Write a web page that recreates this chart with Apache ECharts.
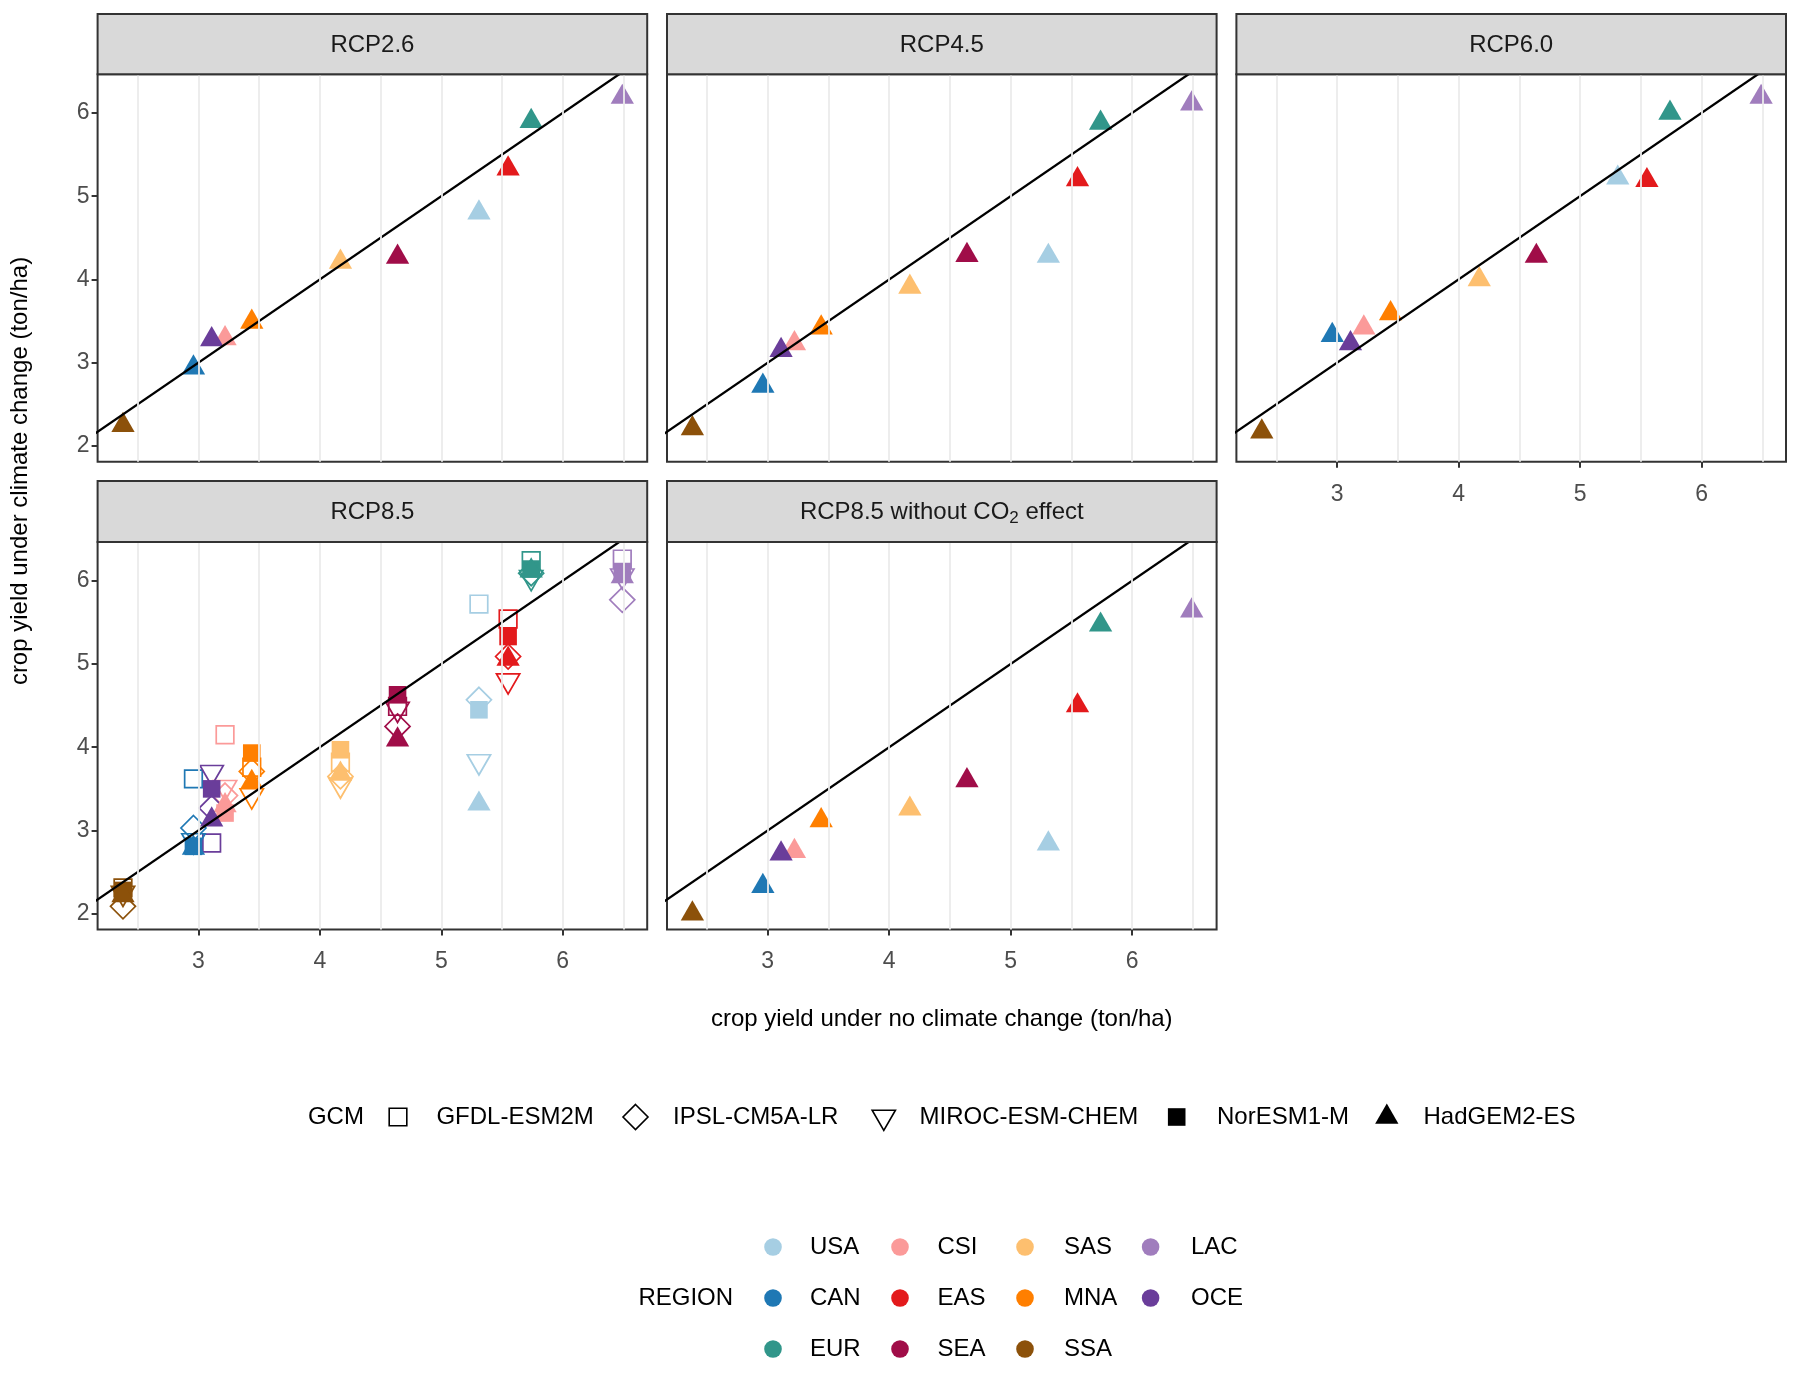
<!DOCTYPE html>
<html><head><meta charset="utf-8">
<script src="https://cdn.jsdelivr.net/npm/echarts@6/dist/echarts.min.js"></script>
<style>html,body{margin:0;padding:0;background:#fff}#chart{width:1800px;height:1377px}</style>
</head><body><div id="chart"></div>
<script>
// ---------------- data ----------------
const regions = ['USA','CAN','EUR','CSI','EAS','SEA','SAS','MNA','SSA','LAC','OCE'];
const gcms = ['GFDL-ESM2M','IPSL-CM5A-LR','MIROC-ESM-CHEM','NorESM1-M','HadGEM2-ES'];
const scenarios = ['RCP2.6','RCP4.5','RCP6.0','RCP8.5','RCP8.5 without CO2 effect'];
// crop yield under no climate change (x), same for every panel
const yieldNoCC = [5.31, 2.96, 5.74, 3.22, 5.55, 4.64, 4.17, 3.44, 2.38, 6.49, 3.11];
// crop yield under climate change (y)
const rcp26Had     = [4.80, 2.94, 5.90, 3.29, 5.33, 4.27, 4.21, 3.49, 2.25, 6.19, 3.28];
const rcp45Had     = [4.28, 2.72, 5.88, 3.23, 5.20, 4.29, 3.91, 3.42, 2.21, 6.11, 3.15];
const rcp60Had     = [5.22, 3.33, 6.00, 3.42, 5.19, 4.28, 4.00, 3.59, 2.17, 6.19, 3.23];
const rcp85NoCO2Had= [2.84, 2.33, 5.47, 2.75, 4.50, 3.60, 3.26, 3.12, 2.00, 5.64, 2.72];
const rcp85GFDL    = [5.72, 3.62, 6.24, 4.15, 5.54, 4.49, 3.82, 3.76, 2.31, 6.26, 2.85];
const rcp85IPSL    = [4.57, 3.03, 6.09, 3.42, 5.09, 4.25, 3.65, 3.71, 2.09, 5.77, 3.27];
const rcp85MIROC   = [3.83, 2.88, 6.04, 3.52, 4.80, 4.46, 3.55, 3.42, 2.25, 6.06, 3.70];
const rcp85Nor     = [4.45, 2.81, 6.14, 3.21, 5.33, 4.63, 3.97, 3.93, 2.28, 6.11, 3.50];
const rcp85Had     = [3.32, 2.79, 6.12, 3.30, 5.06, 4.09, 3.68, 3.58, 2.22, 6.05, 3.13];
const xTickValues = [3, 4, 5, 6];
const yTickValues = [2, 3, 4, 5, 6];
const xGridValues = [2.5, 3, 3.5, 4, 4.5, 5, 5.5, 6, 6.5];
const identityLine = [[1, 1], [8, 8]];

// ---------------- styles ----------------
const regionColors = ['#a6cee3','#1f78b4','#31968a','#fb9a99','#e31a1c','#a00d48','#fdbf6f','#ff7f00','#8c510a','#a07dbd','#6a3d9a'];
const FONT = '"Liberation Sans", Arial, Helvetica, sans-serif';
const X_MIN = 2.171, X_MAX = 6.695, Y_MIN = 1.81, Y_MAX = 6.465;
const panelLefts = [97.6, 667, 1236.4];
const rowTops = [74.2, 542];
const PW = 549.6, PH = 387.6;
const gridPos = [[0,0],[1,0],[2,0],[0,1],[1,1]];
const TRI_W = 23.3, TRI_H = 20.2, SQ = 17.6, DIA = 25;
const downTriPath = 'path://M0,0L2,0L1,1.732Z';
const gcmSymbols = [
  {symbol:'rect', size:SQ, offset:[0,0], open:true},
  {symbol:'diamond', size:DIA, offset:[0,0], open:true},
  {symbol:downTriPath, size:[TRI_W,TRI_H], offset:[0,TRI_H/6], open:true},
  {symbol:'rect', size:SQ, offset:[0,0], open:false},
  {symbol:'triangle', size:[TRI_W,TRI_H], offset:[0,-TRI_H/6], open:false}
];

function points(yArr, open) {
  return regions.map((r, i) => ({
    name: r,
    value: [yieldNoCC[i], yArr[i]],
    itemStyle: open ? {color:'rgba(0,0,0,0)', borderColor: regionColors[i], borderWidth: 1.7, opacity: 1}
                    : {color: regionColors[i], borderWidth: 0, opacity: 1}
  }));
}

const grids = gridPos.map(([c, r]) => ({
  left: panelLefts[c], top: rowTops[r], width: PW, height: PH,
  show: true, backgroundColor: '#fff', borderColor: '#333', borderWidth: 2
}));

const showX = [false, false, true, true, true];
const showY = [true, false, false, true, false];
const xAxes = grids.map((g, i) => ({
  type:'value', gridIndex:i, min:X_MIN, max:X_MAX,
  axisLine:{show:false}, splitLine:{show:false},
  axisTick:{show:showX[i], customValues:xTickValues, length:6, lineStyle:{color:'#333', width:2}},
  axisLabel:{show:showX[i], customValues:xTickValues, margin:21, fontSize:23, color:'#4d4d4d', fontFamily:FONT}
}));
const yAxes = grids.map((g, i) => ({
  type:'value', gridIndex:i, min:Y_MIN, max:Y_MAX,
  axisLine:{show:false}, splitLine:{show:false},
  axisTick:{show:showY[i], customValues:yTickValues, length:6, lineStyle:{color:'#333', width:2}},
  axisLabel:{show:showY[i], customValues:yTickValues, margin:8, fontSize:23, color:'#4d4d4d', fontFamily:FONT}
}));

const series = [];
grids.forEach((g, i) => {
  // vertical grid lines
  series.push({
    type:'scatter', xAxisIndex:i, yAxisIndex:i, data:[], z:1, silent:true,
    markLine:{silent:true, symbol:['none','none'], label:{show:false}, animation:false,
      lineStyle:{color:'#ebebeb', width:1.8, type:'solid'},
      data: xGridValues.map(v => ({xAxis:v}))}
  });
});
function addScatter(gi, yArr, gcmIndex) {
  const s = gcmSymbols[gcmIndex];
  series.push({
    type:'scatter', name:gcms[gcmIndex], xAxisIndex:gi, yAxisIndex:gi, z:3,
    symbol:s.symbol, symbolSize:s.size, symbolOffset:s.offset,
    itemStyle:{opacity:1},
    data: points(yArr, s.open)
  });
}
addScatter(0, rcp26Had, 4);
addScatter(1, rcp45Had, 4);
addScatter(2, rcp60Had, 4);
addScatter(3, rcp85GFDL, 0);
addScatter(3, rcp85IPSL, 1);
addScatter(3, rcp85MIROC, 2);
addScatter(3, rcp85Nor, 3);
addScatter(3, rcp85Had, 4);
addScatter(4, rcp85NoCO2Had, 4);
grids.forEach((g, i) => {
  series.push({
    type:'line', xAxisIndex:i, yAxisIndex:i, data:identityLine, z:4, silent:true,
    symbol:'none', clip:true, lineStyle:{color:'#000', width:2.3}
  });
});

// ---------------- graphics: strips, titles, legends ----------------
const graphic = [];
const stripTops = [14, 481], stripH = [60.2, 61];
gridPos.forEach(([c, r], i) => {
  graphic.push({type:'rect', shape:{x:panelLefts[c], y:stripTops[r], width:PW, height:stripH[r]},
    style:{fill:'#d9d9d9', stroke:'#333', lineWidth:2}, z:10});
  const txt = i === 4 ? 'RCP8.5 without CO{sub|2} effect' : scenarios[i];
  graphic.push({type:'text', x:panelLefts[c] + PW/2, y:stripTops[r] + stripH[r]/2 + 1, z:11,
    style:{text:txt, align:'center', verticalAlign:'middle', textAlign:'center', textVerticalAlign:'middle',
      fill:'#1a1a1a', font:'24px ' + FONT,
      rich:{sub:{fontSize:17, fontFamily:FONT, fill:'#1a1a1a', padding:[12,0,0,0]}}}});
});
graphic.push({type:'text', x:941.8, y:1019, z:11,
  style:{text:'crop yield under no climate change (ton/ha)', align:'center', verticalAlign:'middle',
    textAlign:'center', textVerticalAlign:'middle', fill:'#000', font:'24px ' + FONT}});
graphic.push({type:'text', x:20.7, y:471, rotation:Math.PI/2, z:11,
  style:{text:'crop yield under climate change (ton/ha)', align:'center', verticalAlign:'middle',
    textAlign:'center', textVerticalAlign:'middle', fill:'#000', font:'24px ' + FONT}});

function legendText(x, y, t) {
  graphic.push({type:'text', x:x, y:y, z:11,
    style:{text:t, align:'left', verticalAlign:'middle', textAlign:'left', textVerticalAlign:'middle',
      fill:'#000', font:'24px ' + FONT}});
}
// GCM legend
const gy = 1117;
legendText(307.9, gy, 'GCM');
const gcmKeyX = [398, 635.5, 883.8, 1176.7, 1386.8];
const gcmTextX = [436.4, 673, 919.5, 1217, 1423.5];
gcmKeyX.forEach((cx, k) => {
  const s = gcmSymbols[k];
  const st = s.open ? {fill:'none', stroke:'#000', lineWidth:1.6} : {fill:'#000'};
  if (k === 0 || k === 3) {
    graphic.push({type:'rect', shape:{x:cx-SQ/2, y:gy-SQ/2, width:SQ, height:SQ}, style:st, z:11});
  } else if (k === 1) {
    graphic.push({type:'polygon', shape:{points:[[cx,gy-DIA/2],[cx+DIA/2,gy],[cx,gy+DIA/2],[cx-DIA/2,gy]]}, style:st, z:11});
  } else if (k === 2) {
    graphic.push({type:'polygon', shape:{points:[[cx-TRI_W/2,gy-TRI_H/3],[cx+TRI_W/2,gy-TRI_H/3],[cx,gy+2*TRI_H/3]]}, style:st, z:11});
  } else {
    graphic.push({type:'polygon', shape:{points:[[cx,gy-2*TRI_H/3],[cx+TRI_W/2,gy+TRI_H/3],[cx-TRI_W/2,gy+TRI_H/3]]}, style:st, z:11});
  }
  legendText(gcmTextX[k], gy, gcms[k]);
});
// REGION legend (column-major, 3 rows)
const rowY = [1247, 1298, 1349];
const colKeyX = [773, 900, 1025, 1150.6];
const colTextX = [810, 937.5, 1064, 1191];
legendText(638.4, rowY[1], 'REGION');
regions.forEach((r, i) => {
  const c = Math.floor(i / 3), rr = i % 3;
  graphic.push({type:'circle', shape:{cx:colKeyX[c], cy:rowY[rr], r:8.8}, style:{fill:regionColors[i]}, z:11});
  legendText(colTextX[c], rowY[rr], r);
});

const chart = echarts.init(document.getElementById('chart'), null, {renderer:'canvas', width:1800, height:1377});
chart.setOption({
  animation:false,
  backgroundColor:'#fff',
  textStyle:{fontFamily:FONT},
  grid:grids, xAxis:xAxes, yAxis:yAxes, series:series, graphic:graphic
});
</script></body></html>
